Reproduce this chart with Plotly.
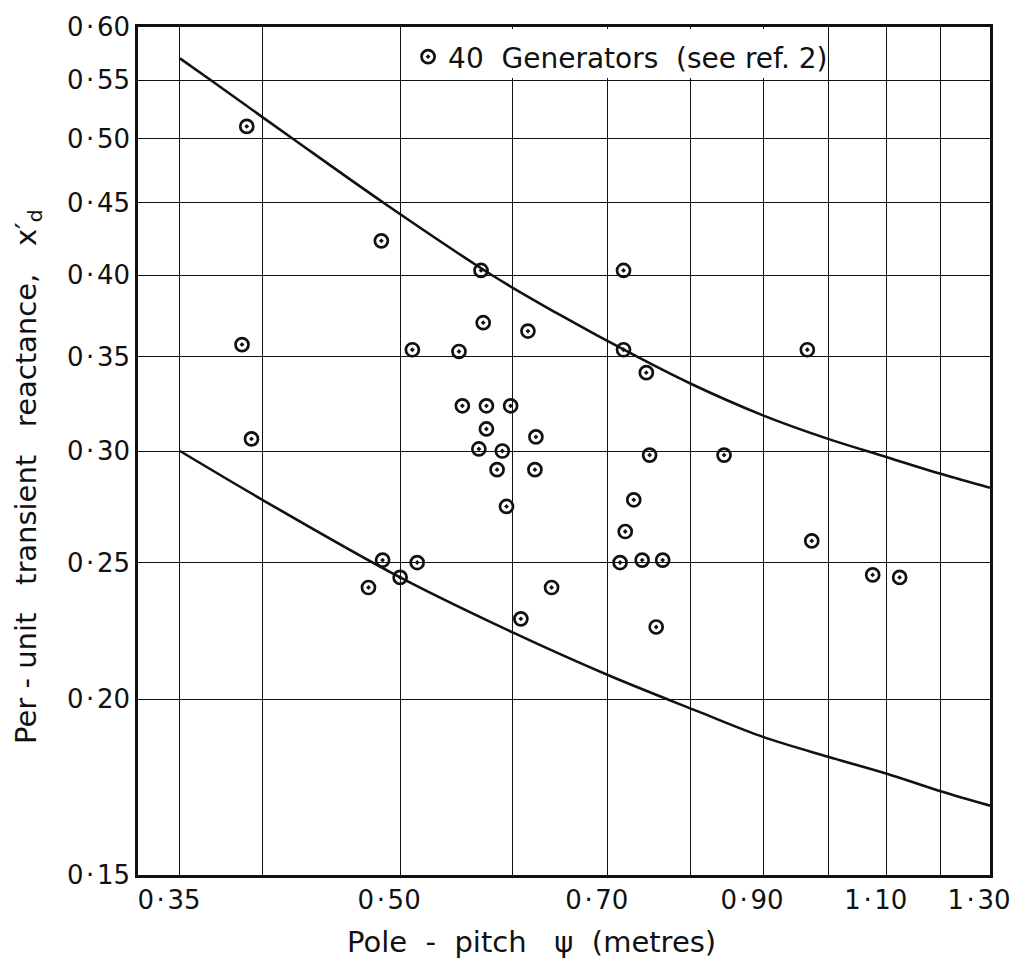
import math
import plotly.graph_objects as go

# Measured generators: pole pitch (m) and per-unit transient reactance
pole_pitch = [
    0.39, 0.485, 0.57, 0.572, 0.718, 0.387, 0.51, 0.55, 0.393, 0.553,
    0.575, 0.598, 0.575, 0.568, 0.59, 0.585, 0.594, 0.486, 0.514, 0.475,
    0.50, 0.608, 0.615, 0.718, 0.745, 0.623, 0.622, 0.749, 0.845, 0.967,
    0.73, 0.72, 0.974, 0.714, 0.74, 0.765, 1.075, 1.123, 0.639, 0.757,
]
reactance = [
    0.510, 0.423, 0.403, 0.370, 0.403, 0.357, 0.354, 0.353, 0.306, 0.323,
    0.323, 0.323, 0.311, 0.301, 0.300, 0.291, 0.274, 0.251, 0.250, 0.240,
    0.244, 0.228, 0.365, 0.354, 0.341, 0.307, 0.291, 0.298, 0.298, 0.354,
    0.277, 0.263, 0.259, 0.250, 0.251, 0.251, 0.245, 0.244, 0.240, 0.225,
]

# Upper and lower envelope curves
upper_x = [0.35, 0.368, 0.42, 0.487, 0.58, 0.644, 0.734, 0.80, 0.90, 1.00, 1.10, 1.20, 1.30]
upper_y = [0.57, 0.55, 0.50, 0.45, 0.40, 0.376, 0.35, 0.335, 0.318, 0.306, 0.297, 0.289, 0.2825]
lower_x = [0.35, 0.40, 0.50, 0.60, 0.70, 0.81, 0.90, 1.00, 1.10, 1.20, 1.30]
lower_y = [0.30, 0.277, 0.244, 0.223, 0.208, 0.196, 0.188, 0.182, 0.177, 0.172, 0.168]

# Axis ticks: labelled lines plus unlabelled grid lines
x_ticks = [0.35, 0.50, 0.70, 0.90, 1.10, 1.30]
x_labels = ["0·35", "0·50", "0·70", "0·90", "1·10", "1·30"]
x_grid_extra = [0.40, 0.60, 0.80, 1.00, 1.20]
y_ticks = [0.15, 0.20, 0.25, 0.30, 0.35, 0.40, 0.45, 0.50, 0.55, 0.60]
y_labels = ["0·15", "0·20", "0·25", "0·30", "0·35", "0·40", "0·45", "0·50", "0·55", "0·60"]

FONT = "DejaVu Sans"
INK = "#111111"
NB = "\u00a0"
HS = "\u200a"


def spaced(label):
    # open up the decimal point a little
    return label.replace("·", HS + "·" + HS)


fig = go.Figure()

for cx, cy in ((upper_x, upper_y), (lower_x, lower_y)):
    fig.add_trace(go.Scatter(
        x=cx, y=cy, mode="lines", showlegend=False,
        line=dict(color=INK, width=2.6, shape="spline", smoothing=1.0),
        hoverinfo="skip",
    ))

fig.add_trace(go.Scatter(
    x=pole_pitch, y=reactance, mode="markers",
    name="40" + NB + " Generators" + NB + " (see ref. 2)",
    marker=dict(symbol="circle-open-dot", size=13, color=INK,
                line=dict(color=INK, width=2.7)),
))

# White panel behind the key, hiding the gridlines of the top row
fig.add_shape(
    type="rect", xref="x", yref="y", layer="between",
    x0=0.503, x1=0.995, y0=0.552, y1=0.598,
    fillcolor="white", line=dict(width=0),
)

# Axis titles
fig.add_annotation(
    text="Pole" + NB * 2 + "-" + NB * 2 + "pitch" + NB * 3 + "ψ" + NB * 2 + "(metres)",
    xref="paper", yref="paper", x=0.4624, y=-0.0788,
    xanchor="center", yanchor="middle", showarrow=False,
    font=dict(family=FONT, size=29, color=INK),
)
fig.add_annotation(
    text="Per" + NB + "-" + NB + "unit" + NB * 3 + "transient" + NB * 3
         + "reactance," + NB * 3 + "x′<sub>d</sub>",
    xref="paper", yref="paper", x=-0.1291, y=0.4694, textangle=-90,
    xanchor="center", yanchor="middle", showarrow=False,
    font=dict(family=FONT, size=29, color=INK),
)

fig.update_layout(
    width=1028, height=963,
    margin=dict(l=138, r=38, t=25, b=88),
    paper_bgcolor="white", plot_bgcolor="white",
    font=dict(family=FONT, color=INK, size=26),
    legend=dict(
        x=0.317, y=0.9647, xanchor="left", yanchor="middle",
        bgcolor="rgba(0,0,0,0)", borderwidth=0,
        font=dict(family=FONT, size=28, color=INK),
        itemwidth=30,
    ),
    xaxis=dict(
        type="log",
        range=[math.log10(0.327), math.log10(1.3)],
        tickmode="array", tickvals=x_ticks, ticktext=[spaced(t) for t in x_labels],
        showgrid=True, gridcolor=INK, gridwidth=1.3,
        minor=dict(tickmode="array", tickvals=x_grid_extra, showgrid=True,
                   gridcolor=INK, gridwidth=1.3, ticks=""),
        showline=True, linecolor=INK, linewidth=2.6, mirror=True,
        ticks="", zeroline=False, ticklabelshift=-11,
        tickfont=dict(family=FONT, size=26, color=INK),
    ),
    yaxis=dict(
        type="log",
        range=[math.log10(0.15), math.log10(0.6)],
        tickmode="array", tickvals=y_ticks, ticktext=[spaced(t) for t in y_labels],
        showgrid=True, gridcolor=INK, gridwidth=1.3,
        showline=True, linecolor=INK, linewidth=2.6, mirror=True,
        ticks="", zeroline=False,
        tickfont=dict(family=FONT, size=26, color=INK),
    ),
)

fig.write_html("out.html")
